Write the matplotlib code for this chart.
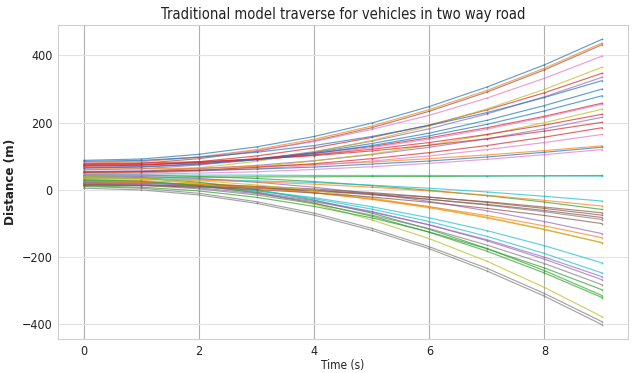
import matplotlib
matplotlib.use("Agg")
import matplotlib.pyplot as plt
from matplotlib import font_manager

# ---------------- data ----------------
time_s = [0, 1, 2, 3, 4, 5, 6, 7, 8, 9]

veh_00 = [88, 92, 106, 128, 159, 199, 248, 306, 372, 448]
veh_01 = [80, 84, 98, 120, 151, 190, 239, 296, 362, 437]
veh_02 = [45, 44, 40, 34, 25, 13, -1, -17, -36, -58]
veh_03 = [70, 73, 84, 101, 125, 156, 193, 238, 289, 347]
veh_04 = [60, 63, 74, 91, 114, 145, 182, 226, 277, 335]
veh_05 = [75, 79, 93, 115, 146, 185, 234, 291, 357, 432]
veh_06 = [82, 86, 98, 117, 144, 180, 222, 273, 332, 398]
veh_07 = [20, 19, 15, 8, -1, -13, -28, -45, -65, -88]
veh_08 = [50, 54, 66, 85, 112, 147, 190, 241, 299, 365]
veh_09 = [35, 34, 32, 27, 22, 14, 5, -6, -19, -33]
veh_10 = [65, 68, 77, 91, 111, 138, 169, 207, 251, 300]
veh_11 = [30, 28, 21, 9, -7, -28, -53, -83, -118, -157]
veh_12 = [40, 36, 23, 1, -30, -69, -117, -174, -240, -314]
veh_13 = [72, 74, 81, 93, 109, 129, 155, 185, 219, 258]
veh_14 = [55, 57, 63, 73, 87, 105, 127, 152, 182, 216]
veh_15 = [15, 14, 11, 6, -1, -11, -22, -35, -51, -68]
veh_16 = [68, 70, 77, 89, 105, 126, 151, 181, 216, 255]
veh_17 = [10, 5, -10, -35, -69, -114, -169, -233, -308, -392]
veh_18 = [48, 50, 57, 69, 86, 107, 133, 164, 200, 240]
veh_19 = [25, 22, 13, -2, -23, -50, -83, -121, -166, -217]
veh_20 = [85, 88, 97, 112, 132, 159, 192, 230, 275, 325]
veh_21 = [62, 63, 65, 70, 76, 83, 93, 104, 117, 131]
veh_22 = [38, 38, 38, 39, 39, 40, 40, 41, 42, 43]
veh_23 = [78, 80, 84, 92, 102, 116, 133, 152, 175, 201]
veh_24 = [42, 40, 34, 23, 8, -11, -34, -62, -94, -130]
veh_25 = [22, 21, 17, 11, 3, -8, -21, -37, -55, -75]
veh_26 = [50, 51, 56, 63, 73, 86, 101, 120, 141, 165]
veh_27 = [18, 14, 3, -15, -41, -75, -115, -164, -219, -282]
veh_28 = [40, 35, 19, -6, -42, -89, -145, -212, -290, -377]
veh_29 = [28, 25, 14, -3, -26, -57, -94, -138, -189, -247]
veh_30 = [54, 55, 58, 62, 68, 77, 86, 98, 112, 127]
veh_31 = [33, 32, 29, 24, 17, 8, -3, -16, -31, -48]
veh_32 = [12, 8, -3, -22, -49, -83, -125, -175, -232, -297]
veh_33 = [74, 76, 81, 91, 104, 121, 141, 165, 193, 225]
veh_34 = [26, 22, 12, -7, -32, -64, -104, -151, -206, -267]
veh_35 = [16, 15, 11, 5, -3, -14, -28, -43, -61, -82]
veh_36 = [46, 47, 50, 54, 61, 69, 79, 91, 105, 120]
veh_37 = [5, 0, -15, -40, -75, -120, -175, -241, -316, -401]
veh_38 = [36, 34, 27, 15, -2, -24, -50, -81, -117, -157]
veh_39 = [44, 44, 44, 44, 43, 43, 43, 42, 42, 41]
veh_40 = [66, 69, 77, 90, 108, 132, 161, 195, 235, 280]
veh_41 = [24, 22, 16, 6, -9, -27, -50, -76, -107, -142]
veh_42 = [30, 26, 13, -9, -39, -78, -126, -182, -247, -320]
veh_43 = [52, 54, 59, 67, 78, 93, 111, 132, 157, 185]
veh_44 = [20, 17, 6, -11, -35, -66, -104, -148, -200, -258]
veh_45 = [14, 13, 8, 1, -9, -21, -37, -55, -76, -100]

vehicles = [veh_00, veh_01, veh_02, veh_03, veh_04, veh_05, veh_06, veh_07,
            veh_08, veh_09, veh_10, veh_11, veh_12, veh_13, veh_14, veh_15,
            veh_16, veh_17, veh_18, veh_19, veh_20, veh_21, veh_22, veh_23,
            veh_24, veh_25, veh_26, veh_27, veh_28, veh_29, veh_30, veh_31,
            veh_32, veh_33, veh_34, veh_35, veh_36, veh_37, veh_38, veh_39,
            veh_40, veh_41, veh_42, veh_43, veh_44, veh_45]

x_ticks = [0, 2, 4, 6, 8]
y_ticks = [-400, -200, 0, 200, 400]

# ---------------- font ----------------
entries = font_manager.fontManager.ttflist
has_dv_cond = any(f.name == "DejaVu Sans" and "condensed" in str(f.stretch) for f in entries)
names = {f.name for f in entries}
if has_dv_cond:
    fprops = dict(family="DejaVu Sans", stretch="condensed")
elif "Liberation Sans Narrow" in names:
    fprops = dict(family="Liberation Sans Narrow")
else:
    fprops = dict(family="DejaVu Sans")

# ---------------- figure ----------------
fig = plt.figure(figsize=(6.34, 3.73), dpi=100)
ax = fig.add_axes([0.0915, 0.091, 0.899, 0.842])

colors = plt.rcParams["axes.prop_cycle"].by_key()["color"]
for i, series in enumerate(vehicles):
    c = colors[i % len(colors)]
    ax.plot(time_s, series, color=c, lw=0.85, alpha=0.7,
            marker=".", markersize=2.5, markeredgewidth=0, zorder=3)

ax.set_xticks(x_ticks)
ax.set_yticks(y_ticks)
ax.grid(True, axis="x", color="#b0b0b0", lw=0.8, zorder=0)
ax.grid(True, axis="y", color="#e3e3e3", lw=0.8, zorder=0)
for s in ax.spines.values():
    s.set_color("#cfcfcf")
    s.set_linewidth(0.8)
ax.tick_params(length=0, pad=4, labelsize=9, colors="#222222")
for lab in ax.get_xticklabels() + ax.get_yticklabels():
    lab.set(**fprops)

ax.set_title("Traditional model traverse for vehicles in two way road",
             fontsize=10.5, color="#222222", pad=4, **fprops)
ax.set_xlabel("Time (s)", fontsize=8.5, color="#222222", labelpad=1, **fprops)
ax.set_ylabel("Distance (m)", fontsize=9.5, color="#222222", labelpad=3,
              fontweight="semibold", **fprops)

fig.savefig("out.png", dpi=100)
